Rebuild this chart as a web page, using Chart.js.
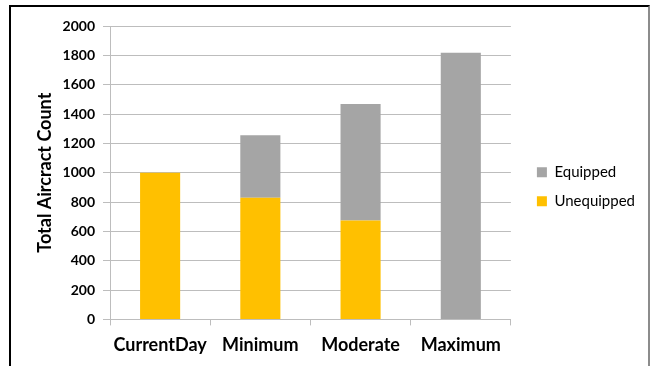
<!DOCTYPE html>
<html>
<head>
<meta charset="utf-8">
<script src="https://cdn.jsdelivr.net/npm/chart.js@4/dist/chart.umd.min.js"></script>
<style>
  html, body { margin: 0; padding: 0; background: #fff; }
  #wrap { position: relative; width: 653px; height: 366px; overflow: hidden; }
  #frame {
    position: absolute; left: 9px; top: 5px; width: 637px; height: 400px;
    border-top: 2px solid #000; border-left: 2px solid #000; border-right: 2px solid #8c8c8c;
  }
  canvas { position: absolute; left: 0; top: 0; }
</style>
</head>
<body>
<div id="wrap">
  <div id="frame"></div>
  <canvas id="chart" width="653" height="366"></canvas>
</div>
<script>
// Fleet scenarios and aircraft counts
const categories = ['CurrentDay', 'Minimum', 'Moderate', 'Maximum'];
const unequipped = [1000, 829, 675, 0];
const equipped = [0, 426, 793, 1818];
const yTicks = [0, 200, 400, 600, 800, 1000, 1200, 1400, 1600, 1800, 2000];

const FONT = 'Lato, "Open Sans", sans-serif';
const GRID = '#bdbdbd';

new Chart(document.getElementById('chart'), {
  type: 'bar',
  data: {
    labels: categories,
    datasets: [
      { label: 'Unequipped', data: unequipped, backgroundColor: '#FFC000',
        barPercentage: 0.4, categoryPercentage: 1.0 },
      { label: 'Equipped', data: equipped, backgroundColor: '#A5A5A5',
        barPercentage: 0.4, categoryPercentage: 1.0 }
    ]
  },
  options: {
    responsive: false,
    animation: false,
    layout: { padding: { left: 26, top: 26, bottom: 1, right: 8 } },
    plugins: {
      tooltip: { enabled: false },
      legend: {
        position: 'right',
        fullSize: false,
        reverse: true,
        maxWidth: 220,
        // empty heading keeps the two entries a little below the plot's middle
        title: { display: true, text: ' ', padding: 8, font: { family: FONT, size: 10 } },
        labels: {
          boxWidth: 10, boxHeight: 10, padding: 14,
          color: '#000',
          font: { family: FONT, size: 15 }
        }
      }
    },
    scales: {
      x: {
        stacked: true,
        offset: true,
        grid: { offset: true, drawOnChartArea: false, color: GRID, tickLength: 6 },
        border: { color: GRID },
        ticks: { color: '#000', padding: 9, font: { family: FONT, size: 18, weight: 'bold' } }
      },
      y: {
        stacked: true,
        min: 0, max: 2000,
        afterBuildTicks: (scale) => { scale.ticks = yTicks.map(v => ({ value: v })); },
        afterFit: (scale) => { scale.width = 84; },
        grid: { color: GRID, tickLength: 7 },
        border: { color: GRID },
        ticks: {
          color: '#000', padding: 8,
          font: { family: FONT, size: 14, weight: 'bold' },
          callback: (v) => String(v)
        },
        title: {
          display: true, text: 'Total Aircract Count', color: '#000',
          padding: { top: 8, bottom: 0 },
          font: { family: FONT, size: 18, weight: 'bold' }
        }
      },
      // blank strip separating the plot from the legend
      gap: {
        type: 'linear', position: 'right', display: true,
        grid: { display: false }, border: { display: false },
        ticks: { display: false },
        afterFit: (scale) => { scale.width = 12; }
      }
    }
  }
});
</script>
</body>
</html>
